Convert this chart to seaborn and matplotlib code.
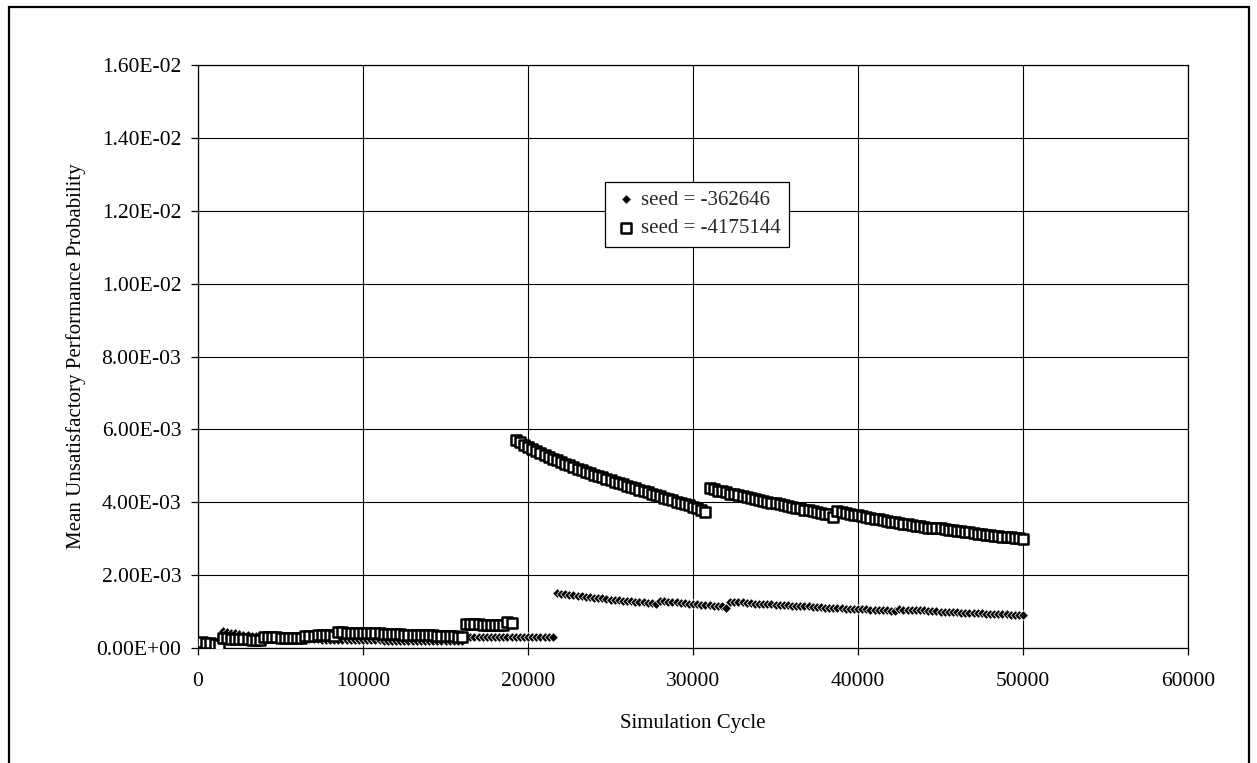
import numpy as np
import pandas as pd
import matplotlib
matplotlib.use("Agg")
import matplotlib.pyplot as plt
from matplotlib.patches import Rectangle
from matplotlib.ticker import FuncFormatter, MultipleLocator
import seaborn as sns

# values, in units of 1e-3, one point every 250 cycles
step = 250
seed_a_label = "seed = -362646"
seed_b_label = "seed = -4175144"
seed_a_start = 1500
seed_b_start = 250

seed_a = [
    0.48, 0.45, 0.42, 0.40, 0.38, 0.36, 0.35, 0.33, 0.32, 0.31,
    0.30, 0.29, 0.28, 0.28, 0.27, 0.27, 0.26, 0.26, 0.25, 0.25,
    0.25, 0.24, 0.24, 0.24, 0.23, 0.23, 0.23, 0.23, 0.22, 0.22,
    0.22, 0.22, 0.22, 0.21, 0.21, 0.21, 0.21, 0.21, 0.21, 0.20,
    0.20, 0.20, 0.20, 0.20, 0.20, 0.20, 0.19, 0.19, 0.19, 0.19,
    0.19, 0.19, 0.19, 0.18, 0.18, 0.18, 0.18, 0.18, 0.18,
    0.31, 0.31, 0.31, 0.31, 0.31, 0.31, 0.31, 0.30, 0.30, 0.30,
    0.30, 0.30, 0.30, 0.30, 0.30, 0.30, 0.29, 0.29, 0.29, 0.29,
    0.29, 0.29,
    1.51, 1.49, 1.48, 1.46, 1.45, 1.43, 1.42, 1.41, 1.39, 1.38,
    1.37, 1.36, 1.35, 1.33, 1.32, 1.31, 1.30, 1.29, 1.28, 1.27,
    1.26, 1.25, 1.24, 1.23, 1.22,
    1.29, 1.28, 1.27, 1.26, 1.25, 1.24, 1.23, 1.22, 1.21, 1.20,
    1.19, 1.18, 1.17, 1.16, 1.15, 1.14, 1.10,
    1.27, 1.26, 1.25, 1.25, 1.24, 1.23, 1.22, 1.22, 1.21, 1.20,
    1.20, 1.19, 1.18, 1.18, 1.17, 1.16, 1.16, 1.15, 1.14, 1.14,
    1.13, 1.12, 1.12, 1.11, 1.11, 1.10, 1.09, 1.09, 1.08, 1.08,
    1.07, 1.07, 1.06, 1.06, 1.05, 1.05, 1.04, 1.03, 1.03, 1.02,
    1.01,
    1.06, 1.05, 1.05, 1.04, 1.04, 1.03, 1.03, 1.02, 1.01, 1.01,
    1.00, 1.00, 0.99, 0.99, 0.98, 0.97, 0.97, 0.96, 0.96, 0.95,
    0.95, 0.94, 0.94, 0.93, 0.93, 0.92, 0.92, 0.91, 0.91, 0.90,
    0.90,
]

seed_b = [
    0.16, 0.15, 0.13, 0.11, 0.08,
    0.28, 0.27, 0.26, 0.25, 0.25, 0.24, 0.24, 0.23, 0.23, 0.22,
    0.30, 0.30, 0.29, 0.29, 0.28, 0.28, 0.28, 0.27, 0.27, 0.27,
    0.33, 0.32, 0.32,
    0.37, 0.36, 0.35, 0.35, 0.34,
    0.43, 0.43, 0.42, 0.42, 0.42, 0.41, 0.41, 0.41, 0.40, 0.40,
    0.40, 0.39, 0.39, 0.39, 0.38, 0.38, 0.37, 0.37, 0.37, 0.36,
    0.36, 0.35, 0.35, 0.35, 0.34, 0.34, 0.33, 0.33, 0.32, 0.31,
    0.30,
    0.66, 0.66, 0.65, 0.65, 0.64, 0.64, 0.63, 0.63, 0.63, 0.62,
    0.70, 0.68,
    5.70, 5.64, 5.58, 5.52, 5.46, 5.41, 5.35, 5.30, 5.25, 5.20,
    5.15, 5.10, 5.05, 5.01, 4.96, 4.92, 4.88, 4.84, 4.80, 4.76,
    4.72, 4.68, 4.64, 4.60, 4.56, 4.52, 4.49, 4.45, 4.41, 4.38,
    4.34, 4.30, 4.27, 4.23, 4.20, 4.16, 4.13, 4.09, 4.06, 4.02,
    3.99, 3.95, 3.92, 3.88, 3.84, 3.80, 3.72,
    4.38, 4.35, 4.32, 4.30, 4.27, 4.24, 4.22, 4.19, 4.17, 4.14,
    4.12, 4.09, 4.07, 4.04, 4.02, 3.99, 3.97, 3.94, 3.92, 3.89,
    3.87, 3.85, 3.83, 3.80, 3.78, 3.76, 3.74, 3.71, 3.69, 3.67,
    3.60,
    3.76, 3.74, 3.71, 3.69, 3.66, 3.64, 3.62, 3.59, 3.57, 3.55,
    3.53, 3.51, 3.49, 3.47, 3.45, 3.43, 3.41, 3.39, 3.37, 3.35,
    3.34, 3.32, 3.30, 3.28, 3.30, 3.28, 3.27, 3.25, 3.23, 3.21,
    3.20, 3.18, 3.17, 3.15, 3.14, 3.12, 3.11, 3.10, 3.08, 3.07,
    3.06, 3.05, 3.04, 3.02, 3.01, 3.00,
]

x_ticks = [0, 10000, 20000, 30000, 40000, 50000, 60000]

df_a = pd.DataFrame({"cycle": seed_a_start + step * np.arange(len(seed_a)),
                     "prob": np.array(seed_a) * 1e-3})
df_b = pd.DataFrame({"cycle": seed_b_start + step * np.arange(len(seed_b)),
                     "prob": np.array(seed_b) * 1e-3})

sns.set_theme(style="white")
plt.rcParams["font.family"] = ["Liberation Serif", "DejaVu Serif"]

fig = plt.figure(figsize=(12.57, 7.63), dpi=100)
ax = fig.add_axes([198 / 1257, 1 - 648 / 763, 990 / 1257, 583 / 763])

# diamonds with a thin white rim give the chevron look of the scan
sns.scatterplot(data=df_a, x="cycle", y="prob", ax=ax, marker="D", s=24,
                color="black", edgecolor="white", linewidth=0.5,
                label=seed_a_label, zorder=3)
sns.scatterplot(data=df_b, x="cycle", y="prob", ax=ax, marker="s", s=62,
                facecolor="white", edgecolor="black", linewidth=1.8,
                label=seed_b_label, zorder=4)

ax.set_xlim(0, 60000)
ax.set_ylim(0, 0.016)
ax.set_xticks(x_ticks)
ax.yaxis.set_major_locator(MultipleLocator(0.002))
ax.yaxis.set_major_formatter(FuncFormatter(lambda v, p: f"{v:.2E}"))
ax.grid(True, color="black", linewidth=0.8)
ax.set_axisbelow(True)
for s in ax.spines.values():
    s.set_color("black")
    s.set_linewidth(0.9)
ax.tick_params(axis="both", direction="out", length=5, width=0.9,
               color="black", labelsize=15.5, labelcolor="black")
ax.tick_params(axis="x", pad=12, bottom=True)
ax.tick_params(axis="y", pad=7, left=True)

ax.set_xlabel("Simulation Cycle", fontsize=15, color="black")
ax.set_ylabel("Mean Unsatisfactory Performance Probability", fontsize=15, color="black")
ax.xaxis.set_label_coords(0.5, -0.113)
ax.yaxis.set_label_coords(-0.113, 0.5)

leg = ax.legend(loc="upper left", bbox_to_anchor=(0.411, 0.80), fontsize=15,
                frameon=True, fancybox=False, framealpha=1, edgecolor="black",
                borderpad=0.42, handletextpad=0.1, handlelength=1.2,
                labelspacing=0.42, borderaxespad=0)
leg.get_frame().set_linewidth(0.9)
leg.set_zorder(10)

fig.patches.append(Rectangle((9 / 1257, -0.01), 1240 / 1257, 1 - 7 / 763 + 0.01,
                             transform=fig.transFigure, fill=False,
                             edgecolor="black", linewidth=1.6))

fig.savefig("out.png", dpi=100)
